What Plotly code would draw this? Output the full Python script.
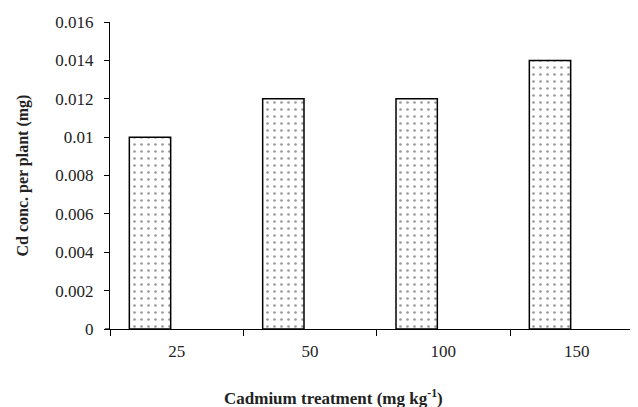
import plotly.graph_objects as go

categories = ["25", "50", "100", "150"]
cd_conc = [0.010, 0.012, 0.012, 0.014]
y_ticks = [0, 0.002, 0.004, 0.006, 0.008, 0.01, 0.012, 0.014, 0.016]
y_tick_labels = ["0", "0.002", "0.004", "0.006", "0.008", "0.01", "0.012", "0.014", "0.016"]

serif = "Liberation Serif, Times New Roman, serif"

# page body has an 8px margin, so the figure is sized to fit the 638x407 window
W, H = 630, 399
L, R, T, B = 102, 0, 14, 78
pw, ph = W - L - R, H - T - B

fig = go.Figure(go.Bar(
    x=categories, y=cd_conc,
    width=0.31, offset=-0.355,
    marker=dict(
        color="white",
        line=dict(color="black", width=1.5),
        pattern=dict(shape=".", fgcolor="#333", bgcolor="white", size=7, solidity=0.12),
    ),
))

fig.update_layout(
    width=W, height=H,
    margin=dict(l=L, r=R, t=T, b=B),
    plot_bgcolor="white", paper_bgcolor="white",
    showlegend=False,
    font=dict(family=serif, size=17, color="#222"),
    xaxis=dict(
        type="category", range=[-0.5, 3.46],
        showline=True, linecolor="black", linewidth=1.2,
        ticks="outside", tickson="boundaries", ticklen=6, tickcolor="black",
        showgrid=False, tickfont=dict(size=17), ticklabelstandoff=6,
    ),
    yaxis=dict(
        range=[0, 0.016], tickvals=y_ticks, ticktext=y_tick_labels,
        showline=True, linecolor="black", linewidth=1.2,
        ticks="outside", ticklen=5, tickcolor="black",
        showgrid=False, zeroline=False, tickfont=dict(size=17), ticklabelstandoff=7,
    ),
    shapes=[dict(type="line", xref="paper", yref="paper",
                 x0=-5 / pw, x1=0, y0=0, y1=0, line=dict(color="black", width=1.2))],
    annotations=[
        dict(
            text="<b>Cadmium treatment (mg kg<sup>-1</sup>)</b>",
            xref="paper", yref="paper", x=(325 - L) / pw, y=-(389 - (T + ph)) / ph,
            xanchor="center", yanchor="middle", showarrow=False,
            font=dict(size=17, family=serif, color="#222"),
        ),
        dict(
            text="<b>Cd conc. per plant (mg)</b>",
            xref="paper", yref="paper", x=(14 - L) / pw, y=0.5, textangle=-90,
            xanchor="center", yanchor="middle", showarrow=False,
            font=dict(size=16, family=serif, color="#222"),
        ),
    ],
)

fig.write_html("out.html")
